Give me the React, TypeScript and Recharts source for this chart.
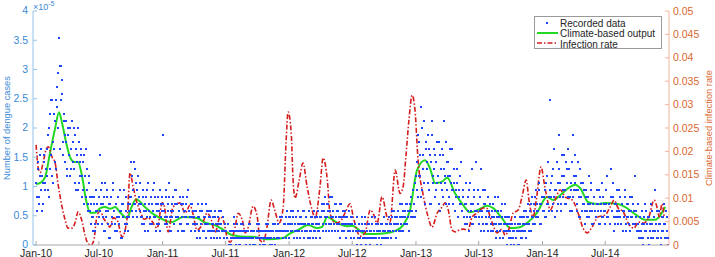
import React from 'react';
import { ComposedChart, Line, Scatter, XAxis, YAxis } from 'recharts';

const WIDTH = 715;
const HEIGHT = 257;
const FONT = '"Liberation Sans", Arial, Helvetica, sans-serif';

// x axis is in days since 1 Jan 2010
const xTickDays = [0, 181, 365, 546, 730, 912, 1096, 1277, 1461, 1642];
const xTickLabels = ['Jan-10', 'Jul-10', 'Jan-11', 'Jul-11', 'Jan-12', 'Jul-12', 'Jan-13', 'Jul-13', 'Jan-14', 'Jul-14'];
const leftTicks = [0, 0.5, 1, 1.5, 2, 2.5, 3, 3.5, 4];
const rightTicks = [0, 0.005, 0.01, 0.015, 0.02, 0.025, 0.03, 0.035, 0.04, 0.045, 0.05];

// recorded cases (value = cases x CASE_UNIT, in 1e-5)
// set A sampled on days 0, 3, 6 ...; set B on days 1.5, 4.5, 7.5 ...
const CASE_UNIT = 0.1177;
const DAY_STEP = 3;
const recorded2010 = [
  9, 5, 11, 7, 13, 8, 10, 6, 12, 9,
  14, 8, 17, 11, 21, 10, 15, 19, 12, 21,
  20, 25, 30, 14, 26, 22, 15, 19,
  12, 18, 10, 16, 13, 17, 11, 15,
  17, 9, 14, 12, 8, 15, 10, 13, 7,
  12, 6, 10, 14, 8, 5, 9,
  5, 3, 7, 4, 6, 2, 8, 5, 4,
  13, 6, 9, 4, 7, 2, 5, 8, 3, 6, 1, 7, 4, 9, 5, 3, 6, 2, 7, 4, 8, 5, 1, 6, 3, 7, 4, 2, 5, 6,
  12, 5, 8, 12, 6, 9, 4, 10, 7, 5,
  6, 3, 8, 5, 2, 7, 4, 9, 5, 3, 6, 8, 4, 7, 2, 5, 6, 3, 8, 4, 5,
];
const recorded2010b = [
  7, 12, 6, 10, 14, 5, 9, 13, 8, 11,
  10, 16, 7, 19, 13, 21, 9, 14, 18, 11,
  23, 17, 26, 21, 24, 13, 18, 16,
  15, 11, 17, 13, 10, 14, 18, 12,
  11, 16, 8, 13, 17, 9, 12, 14, 10,
  8, 13, 7, 11, 6, 10, 7,
  6, 4, 2, 7, 3, 5, 6, 3, 7,
  5, 8, 3, 6, 2, 9, 4, 7, 5, 1, 6, 3, 8, 5, 2, 6, 4, 7, 3, 5, 1, 6, 4, 8, 2, 5, 3, 6, 4, 7,
  7, 10, 4, 6, 11, 5, 8, 6, 9, 4,
  4, 7, 3, 6, 5, 8, 2, 6, 4, 7, 3, 5, 9, 4, 6, 3, 7, 5, 2, 6, 7,
];
const recorded2011 = [
  16, 5, 3, 7, 4, 6, 9, 2, 5, 4, 7, 3, 6, 8, 4, 5, 3, 6, 2, 7, 5, 4, 6, 3, 8, 5, 4, 2, 6, 5,
  4, 2, 5, 3, 6, 4, 1, 3, 5, 2, 4, 6, 3, 2, 5, 4, 1, 3, 4, 2, 5, 3, 1, 4, 2, 3, 5, 2, 4, 1, 3,
  2, 1, 3, 2, 0, 1, 2, 4, 1, 2, 3, 1, 0, 2, 1, 2, 3, 1, 2, 0, 1, 2, 1, 3, 2, 1, 0, 2, 1, 2,
  1, 3, 2, 1, 2, 0, 1, 2, 1, 2, 3, 1, 2, 1, 0, 2, 1, 3, 2, 1, 2, 1, 4, 2, 1, 3, 2, 1, 5, 2, 4,
];
const recorded2011b = [
  6, 4, 8, 3, 5, 7, 4, 2, 6, 5, 3, 8, 4, 6, 2, 5, 7, 3, 4, 6, 2, 5, 4, 7, 3, 5, 6, 4, 3, 5,
  3, 5, 1, 4, 2, 5, 3, 6, 2, 4, 3, 1, 5, 3, 4, 2, 5, 2, 3, 1, 4, 2, 3, 5, 1, 3, 2, 4, 2, 3, 2,
  1, 3, 0, 2, 1, 2, 1, 3, 2, 0, 1, 2, 1, 0, 3, 1, 2, 1, 0, 2, 1, 3, 0, 1, 2, 1, 2, 0, 1, 3,
  2, 1, 0, 2, 1, 1, 2, 0, 3, 1, 2, 0, 1, 2, 3, 1, 0, 2, 1, 3, 1, 2, 2, 4, 1, 2, 3, 4, 2, 3, 1,
];
const recorded2012 = [
  3, 5, 2, 4, 1, 3, 4, 2, 5, 3, 1, 4, 2, 3, 5, 2, 4, 1, 3, 2, 4, 3, 1, 5, 2, 3, 4, 2, 3, 1,
  4, 6, 2, 5, 7, 3, 4, 6, 2, 5, 3, 7, 4, 2, 6, 3, 5, 4, 1, 6, 3, 4, 2, 5, 3, 4, 2, 5, 3, 1, 4,
  2, 1, 3, 2, 4, 1, 2, 0, 3, 1, 2, 4, 1, 2, 3, 1, 0, 2, 3, 1, 2, 4, 1, 2, 3, 1, 2, 0, 3, 2, 1,
  2, 3, 1, 4, 2, 3, 5, 2, 3, 4, 1, 3, 5, 2, 4, 3, 6, 2, 4, 5, 3, 6, 4, 2, 5, 7, 4, 6, 9, 5,
];
const recorded2012b = [
  4, 2, 3, 5, 2, 4, 1, 3, 2, 4, 3, 2, 5, 1, 3, 4, 2, 3, 5, 1, 2, 4, 3, 2, 4, 1, 3, 5, 2, 4,
  5, 3, 6, 4, 2, 6, 5, 3, 7, 4, 2, 5, 3, 6, 4, 5, 2, 3, 6, 4, 2, 5, 3, 4, 1, 3, 5, 2, 4, 3, 2,
  1, 3, 2, 0, 2, 3, 1, 2, 4, 2, 1, 3, 0, 2, 1, 3, 2, 1, 4, 2, 1, 3, 0, 2, 1, 2, 3, 1, 2, 4, 1,
  3, 1, 2, 4, 3, 1, 4, 2, 5, 3, 2, 4, 3, 6, 2, 4, 5, 3, 4, 6, 3, 5, 2, 6, 4, 5, 8, 6, 4, 10,
];
const recorded2013 = [
  12, 7, 15, 10, 20, 8, 13, 18, 6, 14,
  11, 16, 8, 13, 6, 18, 10, 14, 7, 12, 9, 15, 5, 11, 8, 13, 18, 9, 6, 12, 10, 7, 14, 9,
  14, 6, 9, 5, 8, 11, 4, 7, 10, 6,
  5, 8, 3, 6, 4, 7, 2, 9, 5, 3, 6, 8, 4, 12, 5,
  6, 3, 5, 11, 4, 8, 2, 6, 4, 3, 7, 5, 2, 4, 6, 3, 5, 1, 4, 7, 3, 2, 5, 4, 1, 3, 6, 2, 4, 3, 1,
  2, 0, 3, 1, 2, 4, 1, 0, 2, 3, 1, 4, 2, 5, 3, 1, 4, 6, 3, 5, 2, 7, 4, 6, 3, 8, 5, 4, 9, 6, 3, 7,
];
const recorded2013b = [
  8, 16, 10, 13, 7, 17, 11, 9, 15, 12,
  9, 14, 6, 12, 16, 9, 11, 13, 8, 15, 10, 6, 13, 9, 14, 7, 11, 10, 15, 8, 12, 6, 10, 8,
  8, 11, 5, 7, 9, 4, 8, 6, 12, 5,
  7, 4, 6, 9, 3, 5, 8, 4, 6, 11, 3, 7, 5, 4, 8,
  4, 7, 2, 5, 3, 6, 8, 3, 5, 2, 4, 6, 3, 5, 2, 4, 7, 3, 2, 5, 4, 1, 3, 6, 2, 4, 3, 0, 2, 4, 3,
  1, 3, 2, 0, 3, 1, 2, 3, 0, 4, 2, 1, 3, 4, 2, 5, 3, 4, 2, 6, 4, 3, 5, 7, 4, 6, 5, 8, 3, 6, 7, 5,
];
const recorded2014 = [
  5, 8, 4, 10, 6, 7, 21, 9, 5, 11, 7, 4, 8, 12, 6, 16, 9, 5, 10, 7, 13, 8, 6, 11, 14, 7, 9, 5, 16, 8, 13,
  10, 6, 8, 4, 11, 7, 5, 9, 6, 3, 8, 5, 7, 4, 6, 9, 5, 3, 7, 4, 6, 5, 8, 3, 6, 4, 7, 5, 3, 6, 10,
  4, 6, 3, 11, 5, 7, 2, 6, 4, 5, 3, 8, 4, 6, 2, 5, 7, 3, 4, 6, 5, 2, 4, 7, 3, 5, 10, 4, 2,
  3, 1, 4, 2, 5, 1, 3, 6, 2, 4, 0, 3, 1, 5, 2, 4, 8, 3, 1, 2, 5, 3, 1, 4, 2, 6, 3, 1, 4, 0,
];
const recorded2014b = [
  7, 4, 9, 6, 12, 5, 8, 7, 10, 6, 14, 8, 5, 9, 11, 7, 6, 13, 8, 10, 6, 12, 9, 7, 11, 5, 8, 12, 7, 10, 9,
  8, 5, 12, 7, 4, 9, 6, 8, 5, 7, 4, 6, 10, 5, 8, 3, 6, 7, 5, 4, 8, 6, 3, 7, 5, 9, 4, 6, 5, 8, 4,
  6, 3, 7, 5, 9, 4, 3, 6, 8, 4, 5, 7, 3, 6, 5, 4, 8, 2, 6, 4, 3, 7, 5, 4, 6, 3, 5, 2, 6,
  2, 4, 1, 3, 0, 4, 2, 5, 3, 1, 4, 2, 6, 3, 1, 4, 2, 3, 5, 1, 3, 0, 2, 4, 3, 1, 5, 2, 1,
];

// climate-based output [day, value x1e-5]
const climateOutput: [number, number][] = [
  [0, 1.04], [12, 1.06], [26, 1.16], [40, 1.57], [55, 2.0], [66, 2.27], [75, 2.08], [87, 1.74],
  [98, 1.5], [110, 1.42], [121, 1.42], [133, 1.16], [144, 0.77], [156, 0.55], [170, 0.55],
  [185, 0.63], [199, 0.65], [214, 0.62], [228, 0.65], [242, 0.56], [263, 0.46], [274, 0.63],
  [289, 0.78], [314, 0.65], [343, 0.51], [358, 0.46], [392, 0.39], [424, 0.48], [464, 0.46],
  [488, 0.38], [516, 0.34], [540, 0.26], [565, 0.17], [603, 0.14], [626, 0.14], [666, 0.1],
  [713, 0.12], [733, 0.2], [756, 0.26], [785, 0.34], [811, 0.29], [825, 0.31], [840, 0.48],
  [868, 0.38], [897, 0.32], [912, 0.33], [935, 0.24], [949, 0.19], [978, 0.19], [1007, 0.2],
  [1036, 0.24], [1059, 0.34], [1079, 0.6], [1099, 1.28], [1122, 1.45], [1137, 1.3], [1151, 1.06],
  [1170, 1.08], [1186, 1.15], [1209, 0.88], [1230, 0.7], [1252, 0.56], [1275, 0.6], [1301, 0.67],
  [1319, 0.63], [1345, 0.45], [1368, 0.29], [1392, 0.3], [1417, 0.38], [1445, 0.55], [1474, 0.82],
  [1492, 0.77], [1512, 0.85], [1535, 0.97], [1555, 1.03], [1570, 0.97], [1593, 0.73], [1620, 0.7],
  [1642, 0.72], [1679, 0.7], [1699, 0.65], [1730, 0.52], [1757, 0.43], [1786, 0.43], [1800, 0.5],
  [1815, 0.65],
];

// climate-based infection rate [day, rate] (right axis)
const infectionRate: [number, number][] = [
  [0, 0.0214], [6, 0.0165], [12, 0.0155], [20, 0.0175], [29, 0.0205], [35, 0.021], [46, 0.0188],
  [55, 0.0175], [63, 0.0132], [75, 0.0081], [84, 0.0053], [92, 0.0036], [104, 0.0036], [113, 0.0049],
  [121, 0.0071], [133, 0.0049], [141, 0.0021], [150, 0.0003], [159, 0], [167, 0.0012], [176, 0.0064],
  [185, 0.0072], [196, 0.0055], [205, 0.0047], [213, 0.0038], [222, 0.0058], [234, 0.0053],
  [248, 0.0017], [263, 0.006], [271, 0.0154], [280, 0.0124], [291, 0.009], [300, 0.0072],
  [312, 0.0055], [323, 0.0058], [335, 0.005], [349, 0.0036], [364, 0.009], [369, 0.0085],
  [381, 0.0028], [395, 0.0081], [415, 0.009], [430, 0.0068], [444, 0.0085], [453, 0.0065],
  [464, 0.0032], [479, 0.0043], [493, 0.0068], [505, 0.0055], [516, 0.0026], [531, 0.006],
  [540, 0.0053], [551, 0.0017], [560, 0.0006], [574, 0.0038], [583, 0.0068], [597, 0.0047],
  [603, 0.0026], [612, 0.0038], [626, 0.0083], [638, 0.006], [646, 0.001], [655, 0.0006],
  [666, 0.0038], [678, 0.0096], [690, 0.007], [701, 0.0047], [713, 0.0081], [721, 0.0218],
  [727, 0.0284], [736, 0.024], [741, 0.0145], [747, 0.01], [759, 0.0139], [770, 0.0175],
  [782, 0.0124], [796, 0.0075], [805, 0.0058], [819, 0.0124], [828, 0.0186], [840, 0.014],
  [848, 0.0068], [863, 0.0047], [877, 0.005], [891, 0.0068], [906, 0.0088], [915, 0.006],
  [926, 0.003], [935, 0.0019], [949, 0.0026], [964, 0.0075], [972, 0.0068], [984, 0.0047],
  [998, 0.0103], [1013, 0.0058], [1021, 0.0049], [1036, 0.016], [1050, 0.011], [1059, 0.0125],
  [1067, 0.019], [1076, 0.027], [1085, 0.032], [1093, 0.029], [1102, 0.0181], [1116, 0.011],
  [1131, 0.006], [1142, 0.0038], [1157, 0.0068], [1171, 0.0081], [1180, 0.009], [1189, 0.0075],
  [1200, 0.0032], [1209, 0.0028], [1215, 0.003], [1232, 0.0034], [1246, 0.0032], [1258, 0.006],
  [1272, 0.0068], [1290, 0.0079], [1301, 0.0078], [1310, 0.006], [1318, 0.0043], [1330, 0.0026],
  [1344, 0.0034], [1353, 0.0021], [1365, 0.0036], [1376, 0.0068], [1391, 0.0075], [1402, 0.0103],
  [1414, 0.0139], [1422, 0.0096], [1434, 0.006], [1443, 0.0096], [1457, 0.0167], [1466, 0.0132],
  [1477, 0.009], [1483, 0.0075], [1497, 0.0096], [1512, 0.0118], [1526, 0.0103], [1547, 0.0096],
  [1564, 0.0068], [1578, 0.0036], [1590, 0.0026], [1604, 0.0038], [1621, 0.006], [1642, 0.0064],
  [1656, 0.0081], [1668, 0.0096], [1679, 0.0079], [1694, 0.0071], [1708, 0.0047], [1725, 0.0036],
  [1737, 0.0049], [1754, 0.0047], [1768, 0.006], [1783, 0.0096], [1792, 0.0079], [1798, 0.006],
  [1806, 0.0088], [1812, 0.006],
];

const toPoints = (counts: number[], offset: number) =>
  counts.map((c, i) => ({ day: i * DAY_STEP + offset, v: c * CASE_UNIT }));

const recordedData = [
  ...toPoints([...recorded2010, ...recorded2011, ...recorded2012, ...recorded2013, ...recorded2014], 0),
  ...toPoints([...recorded2010b, ...recorded2011b, ...recorded2012b, ...recorded2013b, ...recorded2014b], 1.5),
];
const climateData = climateOutput.map(([day, v]) => ({ day, v }));
const rateData = infectionRate.map(([day, v]) => ({ day, v }));

const BLUE_TEXT = '#3a8ad6';
const BLUE_AXIS = '#94c3ea';
const ORANGE_TEXT = '#d9682f';
const ORANGE_AXIS = '#f2b59b';
const GRAY_AXIS = '#a8a8a8';
const DOT_COLOR = '#1f45ff';
const GREEN = '#22d822';
const RED = '#d41d1d';
const RED_DASH = '5 2 1.5 2';

const XTick = (props: any) => {
  const { x, y, payload } = props;
  const label = xTickLabels[xTickDays.indexOf(payload.value)];
  return (
    <g>
      <line x1={x} x2={x} y1={y} y2={y - 4} stroke={GRAY_AXIS} />
      <text x={x} y={y + 11.5} textAnchor="middle" fontSize={10.5} fill="#262626" fontFamily={FONT}>
        {label}
      </text>
    </g>
  );
};

const LeftTick = (props: any) => {
  const { x, y, payload } = props;
  return (
    <g>
      <line x1={x} x2={x + 4} y1={y} y2={y} stroke={BLUE_AXIS} />
      <text x={x - 5} y={y} dy={3.3} textAnchor="end" fontSize={10.5} fill={BLUE_TEXT} fontFamily={FONT}>
        {String(payload.value)}
      </text>
    </g>
  );
};

const RightTick = (props: any) => {
  const { x, y, payload } = props;
  return (
    <g>
      <line x1={x} x2={x - 4} y1={y} y2={y} stroke={ORANGE_AXIS} />
      <text x={x + 4} y={y} dy={3.6} textAnchor="start" fontSize={10.5} fill={ORANGE_TEXT} fontFamily={FONT}>
        {String(payload.value)}
      </text>
    </g>
  );
};

const SquareDot = (props: any) => {
  const { cx, cy } = props;
  if (cx == null || cy == null) return null;
  return <rect x={Math.round(cx) - 1} y={Math.round(cy) - 1} width={2} height={2} fill={DOT_COLOR} />;
};

export default function App() {
  return (
    <div style={{ position: 'absolute', left: 0, top: 0, width: WIDTH, height: HEIGHT, background: '#fff', fontFamily: FONT }}>
      <ComposedChart width={WIDTH} height={HEIGHT} margin={{ top: 11, right: 0, bottom: 0, left: 0 }}>
        <XAxis
          type="number"
          dataKey="day"
          domain={[-9, 1826]}
          ticks={xTickDays}
          interval={0}
          tickSize={0}
          tickMargin={0}
          tick={XTick}
          tickLine={false}
          axisLine={{ stroke: GRAY_AXIS }}
          height={12}
          allowDataOverflow
        />
        <YAxis
          yAxisId="left"
          orientation="left"
          type="number"
          width={33}
          domain={[0, 4]}
          ticks={leftTicks}
          interval={0}
          tickSize={0}
          tickMargin={0}
          tick={LeftTick}
          tickLine={false}
          axisLine={{ stroke: BLUE_AXIS }}
          allowDataOverflow
        />
        <YAxis
          yAxisId="right"
          orientation="right"
          type="number"
          width={46}
          domain={[0, 0.05]}
          ticks={rightTicks}
          interval={0}
          tickSize={0}
          tickMargin={0}
          tick={RightTick}
          tickLine={false}
          axisLine={{ stroke: ORANGE_AXIS }}
          allowDataOverflow
        />
        <Scatter
          yAxisId="left"
          data={recordedData}
          dataKey="v"
          shape={SquareDot}
          isAnimationActive={false}
        />
        <Line
          yAxisId="left"
          data={climateData}
          dataKey="v"
          type="monotone"
          stroke={GREEN}
          strokeWidth={2}
          dot={false}
          isAnimationActive={false}
        />
        <Line
          yAxisId="right"
          data={rateData}
          dataKey="v"
          type="monotone"
          stroke={RED}
          strokeWidth={1.6}
          strokeDasharray={RED_DASH}
          dot={false}
          isAnimationActive={false}
        />
      </ComposedChart>

      {/* titles, exponent and legend drawn on top */}
      <svg width={WIDTH} height={HEIGHT} style={{ position: 'absolute', left: 0, top: 0, pointerEvents: 'none' }}>
        <text x={33} y={10} fontSize={9} fill={BLUE_TEXT} fontFamily={FONT}>
          ×10<tspan fontSize={7} dy={-4}>-5</tspan>
        </text>
        <text
          x={10}
          y={128}
          transform="rotate(-90, 10, 128)"
          textAnchor="middle"
          fontSize={9.3}
          fill={BLUE_TEXT}
          fontFamily={FONT}
        >
          Number of dengue cases
        </text>
        <text
          x={712}
          y={128}
          transform="rotate(-90, 712, 128)"
          textAnchor="middle"
          fontSize={9.3}
          fill={ORANGE_TEXT}
          fontFamily={FONT}
        >
          Climate-based infection rate
        </text>

        <rect x={534.5} y={16.5} width={127} height={32} fill="#fff" stroke="#9a9a9a" />
        <rect x={546} y={22} width={2} height={2} fill={DOT_COLOR} />
        <line x1={537} x2={558} y1={33} y2={33} stroke={GREEN} strokeWidth={2} />
        <line x1={537} x2={558} y1={43} y2={43} stroke={RED} strokeWidth={1.6} strokeDasharray={RED_DASH} />
        <text x={560} y={26.5} fontSize={10} fill="#262626" fontFamily={FONT}>Recorded data</text>
        <text x={560} y={37} fontSize={10} fill="#262626" fontFamily={FONT}>Climate-based output</text>
        <text x={560} y={47.5} fontSize={10} fill="#262626" fontFamily={FONT}>Infection rate</text>
      </svg>
    </div>
  );
}
